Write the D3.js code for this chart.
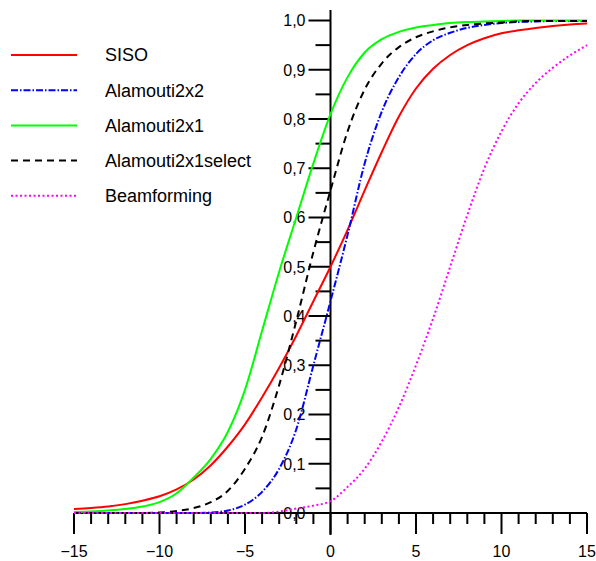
<!DOCTYPE html>
<html>
<head>
<meta charset="utf-8">
<script src="https://cdn.jsdelivr.net/npm/d3@7"></script>
<style>
  html, body { margin: 0; padding: 0; background: #fff; }
  svg { display: block; font-family: "Liberation Sans", Arial, sans-serif; }
</style>
</head>
<body>
<div id="chart"></div>
<script>
const xs = d3.range(-15, 16);

const siso = [0.008, 0.010, 0.013, 0.018, 0.025, 0.034, 0.048, 0.068, 0.097, 0.135,
  0.18, 0.235, 0.295, 0.36, 0.43, 0.50, 0.575, 0.655, 0.733, 0.805,
  0.862, 0.902, 0.93, 0.95, 0.964, 0.974, 0.98, 0.985, 0.989, 0.992, 0.994];
const alamouti2x2 = [0, 0, 0, 0, 0, 0, 0, 0, 0.001, 0.005,
  0.017, 0.043, 0.09, 0.17, 0.30, 0.43, 0.565, 0.71, 0.815, 0.885,
  0.932, 0.96, 0.975, 0.985, 0.991, 0.995, 0.997, 0.998, 0.999, 0.999, 0.999];
const alamouti2x1 = [0.002, 0.003, 0.005, 0.008, 0.013, 0.022, 0.040, 0.072, 0.11, 0.165,
  0.25, 0.37, 0.49, 0.60, 0.71, 0.81, 0.885, 0.935, 0.962, 0.977,
  0.986, 0.991, 0.995, 0.997, 0.998, 0.999, 1.0, 1.0, 1.0, 1.0, 1.0];
const alamouti2x1select = [0, 0, 0, 0, 0, 0.001, 0.004, 0.010, 0.022, 0.045,
  0.09, 0.155, 0.26, 0.39, 0.53, 0.655, 0.775, 0.86, 0.913, 0.946,
  0.966, 0.978, 0.986, 0.991, 0.994, 0.996, 0.998, 0.999, 0.999, 0.999, 0.999];
const beamforming = [0, 0, 0, 0, 0, 0, 0, 0, 0, 0,
  0, 0, 0.003, 0.009, 0.015, 0.024, 0.053, 0.09, 0.145, 0.215,
  0.30, 0.395, 0.50, 0.605, 0.70, 0.775, 0.832, 0.873, 0.904, 0.929, 0.95];

const seriesNames = ['SISO', 'Alamouti2x2', 'Alamouti2x1', 'Alamouti2x1select', 'Beamforming'];
const seriesValues = [siso, alamouti2x2, alamouti2x1, alamouti2x1select, beamforming];
const seriesColors = ['#ff0000', '#0000ff', '#00ff00', '#000000', '#ff00ff'];
const seriesDash = [null, '7,2,1.5,2', null, '7,5', '2,2.5'];

const xTicks = [-15, -10, -5, 0, 5, 10, 15];
const yTicks = d3.range(0, 11).map(i => i / 10);

const width = 596, height = 561;

const svg = d3.select('#chart').append('svg')
  .attr('width', width)
  .attr('height', height);

const x = d3.scaleLinear().domain([-15, 15]).range([74, 587]);
const y = d3.scaleLinear().domain([0, 1]).range([513, 20.5]);

const fmt = v => d3.format('.1f')(v).replace('.', ',');

// x axis: line at y=0, ticks downward
const xAxis = svg.append('g').attr('stroke', '#000').attr('stroke-width', 2);
xAxis.append('line')
  .attr('x1', x(-15)).attr('x2', x(15))
  .attr('y1', y(0)).attr('y2', y(0));
xAxis.selectAll('.xt')
  .data(d3.range(-15, 16))
  .join('line')
    .attr('x1', d => x(d)).attr('x2', d => x(d))
    .attr('y1', y(0))
    .attr('y2', d => y(0) + (d % 5 === 0 ? 21 : 11));

svg.selectAll('.xl')
  .data(xTicks)
  .join('text')
    .attr('x', d => x(d))
    .attr('y', 557)
    .attr('text-anchor', 'middle')
    .attr('font-size', 16)
    .text(d => d < 0 ? '\u2212' + Math.abs(d) : d);

// y axis at x=0, ticks to the left
const yAxis = svg.append('g').attr('stroke', '#000').attr('stroke-width', 2);
yAxis.append('line')
  .attr('x1', x(0)).attr('x2', x(0))
  .attr('y1', 10).attr('y2', 535);
yAxis.selectAll('.yt')
  .data(d3.range(0, 21).map(i => i / 20))
  .join('line')
    .attr('x1', x(0))
    .attr('x2', (d, i) => x(0) - (i % 2 === 0 ? 22 : 15))
    .attr('y1', d => y(d)).attr('y2', d => y(d));

svg.selectAll('.yl')
  .data(yTicks)
  .join('text')
    .attr('x', x(0) - 25)
    .attr('y', d => y(d))
    .attr('dy', '0.36em')
    .attr('text-anchor', 'end')
    .attr('font-size', 16)
    .text(fmt);

// curves
const line = d3.line()
  .x(d => x(d[0]))
  .y(d => y(d[1]))
  .curve(d3.curveMonotoneX);

seriesValues.forEach((vals, i) => {
  svg.append('path')
    .datum(xs.map((v, j) => [v, vals[j]]))
    .attr('d', line)
    .attr('fill', 'none')
    .attr('stroke', seriesColors[i])
    .attr('stroke-width', 2)
    .attr('stroke-dasharray', seriesDash[i]);
});

// legend
const legend = svg.append('g');
seriesNames.forEach((name, i) => {
  const ly = 55 + i * 35.2;
  legend.append('line')
    .attr('x1', 11).attr('x2', 77)
    .attr('y1', ly).attr('y2', ly)
    .attr('stroke', seriesColors[i])
    .attr('stroke-width', 2)
    .attr('stroke-dasharray', seriesDash[i]);
  legend.append('text')
    .attr('x', 105)
    .attr('y', ly)
    .attr('dy', '0.36em')
    .attr('font-size', 18)
    .text(name);
});
</script>
</body>
</html>
